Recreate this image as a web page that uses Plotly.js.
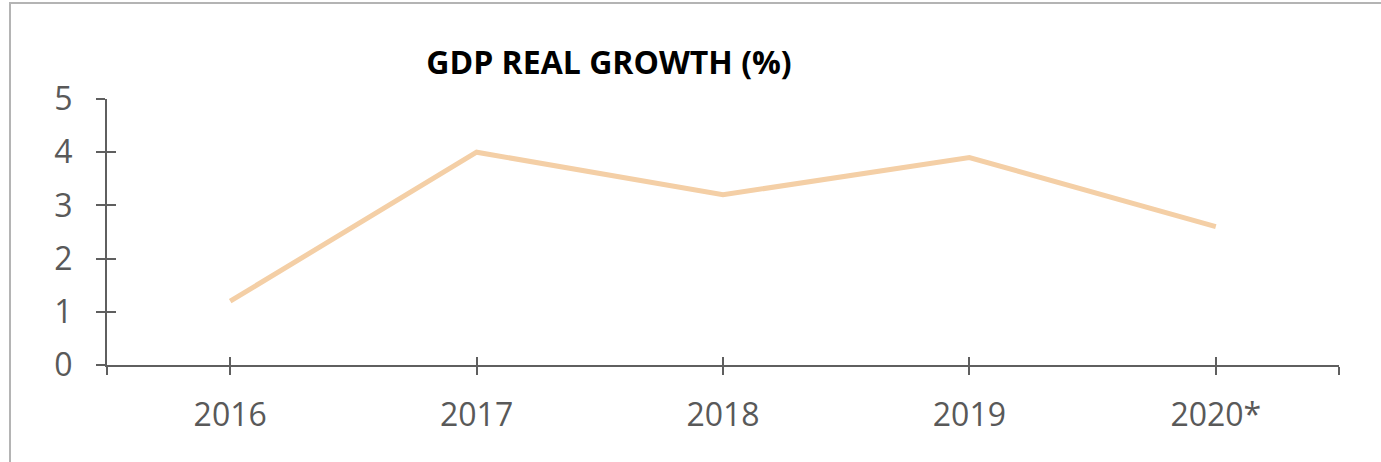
<!DOCTYPE html>
<html>
<head>
<meta charset="utf-8">
<script src="https://cdn.plot.ly/plotly-3.0.1.min.js"></script>
<style>
	html, body { margin: 0; padding: 0; background: #fff; overflow: hidden; }
	#chart { position: absolute; left: 0; top: 0; width: 1381px; height: 462px; }
	/* chart area frame: only top and left edges fall inside the shot */
	#frame { position: absolute; left: 9px; top: 2px; width: 1420px; height: 520px;
		border: 2px solid #b4b4b4; pointer-events: none; }
</style>
</head>
<body>
<div id="chart"></div>
<div id="frame"></div>
<script>
	'use strict';

	// data
	const years = ['2016', '2017', '2018', '2019', '2020*'];
	const growth = [1.2, 4.0, 3.2, 3.9, 2.6];
	const yTicks = [0, 1, 2, 3, 4, 5];

	const axisGrey = '#5f5f5f';
	const labelGrey = '#595959';
	const tickFont = { family: 'Open Sans, sans-serif', size: 32, color: labelGrey };

	// ticks on the category positions plus both ends of the axis
	const xTickVals = [-0.5].concat(years.map(( y, i ) => i ), [years.length - 0.5]);
	const xTickText = [''].concat(years, ['']);
	const xRange = [-0.5, years.length - 0.5];

	const growthLine = {
		x: years,
		y: growth,
		type: 'scatter',
		mode: 'lines',
		line: { color: '#f4cfa6', width: 5 },
		hoverinfo: 'x+y',
		showlegend: false,
	};

	// invisible copy on the overlay axes, so Plotly draws their inner ticks
	const tickHelper = {
		x: years,
		y: growth,
		xaxis: 'x2',
		yaxis: 'y2',
		type: 'scatter',
		mode: 'lines',
		line: { color: 'rgba(0,0,0,0)', width: 0 },
		hoverinfo: 'skip',
		showlegend: false,
	};

	const layout = {
		width: 1381,
		height: 462,
		margin: { l: 107, r: 42, t: 99, b: 97 },
		paper_bgcolor: 'rgba(0,0,0,0)',
		plot_bgcolor: 'rgba(0,0,0,0)',
		title: {
			text: 'GDP REAL GROWTH (%)',
			font: { family: 'Open Sans, sans-serif', size: 32, color: '#000', weight: 700 },
			xref: 'container', yref: 'container',
			x: 0.441, y: 0.864,
			xanchor: 'center', yanchor: 'middle',
		},
		xaxis: {
			type: 'category',
			range: xRange,
			tickmode: 'array',
			tickvals: xTickVals,
			ticktext: xTickText,
			ticks: 'outside',
			ticklen: 8,
			tickwidth: 2,
			tickcolor: axisGrey,
			showline: true,
			linecolor: axisGrey,
			linewidth: 2,
			showgrid: false,
			zeroline: false,
			tickfont: tickFont,
			ticklabelstandoff: 13,
			fixedrange: true,
		},
		// overlay axes: draw the inner half of the crossing tick marks
		xaxis2: {
			type: 'category',
			overlaying: 'x',
			anchor: 'y2',
			side: 'bottom',
			range: xRange,
			tickmode: 'array',
			tickvals: xTickVals,
			ticktext: xTickText,
			ticks: 'inside',
			ticklen: 8,
			tickwidth: 2,
			tickcolor: axisGrey,
			showticklabels: false,
			showline: false,
			showgrid: false,
			zeroline: false,
			fixedrange: true,
		},
		yaxis: {
			range: [0, 5],
			tickmode: 'array',
			tickvals: yTicks,
			ticks: 'outside',
			ticklen: 9,
			tickwidth: 2,
			tickcolor: axisGrey,
			showline: true,
			linecolor: axisGrey,
			linewidth: 2,
			showgrid: false,
			zeroline: false,
			tickfont: tickFont,
			ticklabelstandoff: 17,
			fixedrange: true,
		},
		yaxis2: {
			overlaying: 'y',
			anchor: 'x2',
			side: 'left',
			range: [0, 5],
			tickmode: 'array',
			tickvals: yTicks,
			ticks: 'inside',
			ticklen: 9,
			tickwidth: 2,
			tickcolor: axisGrey,
			showticklabels: false,
			showline: false,
			showgrid: false,
			zeroline: false,
			fixedrange: true,
		},
	};

	Plotly.newPlot('chart', [ growthLine, tickHelper ], layout, { displayModeBar: false, staticPlot: true });
</script>
</body>
</html>
